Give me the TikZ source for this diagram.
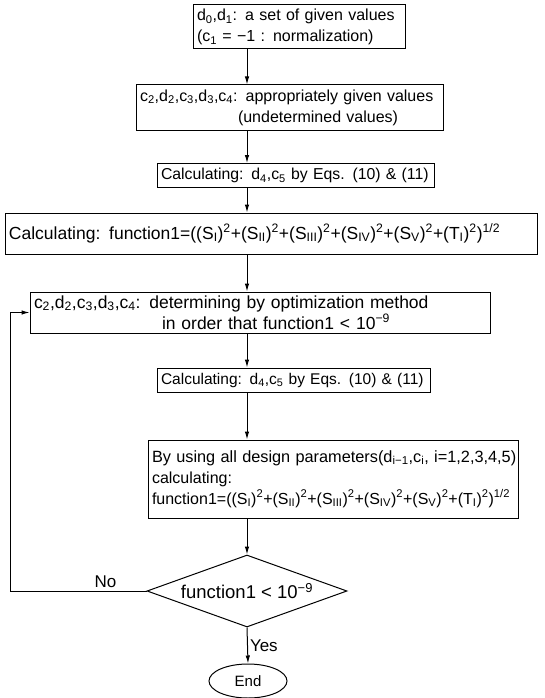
\documentclass[tikz,border=0pt]{standalone}
\usepackage{fontspec}
\setmainfont{Liberation Sans}
\usetikzlibrary{arrows.meta,shapes.geometric,calc}
\newcommand{\sq}{\textsuperscript{2}}
\newcommand{\sub}[1]{\textsubscript{#1}}
\begin{document}
\begin{tikzpicture}[x=1pt,y=-1pt,
  box/.style={draw,line width=1pt,inner xsep=4pt,inner ysep=0pt,align=left},
  fs/.style={font=\fontsize{#1}{21}\selectfont},
  arr/.style={-{Latex[length=8pt,width=4.5pt]},line width=1pt}]
\useasboundingbox (0,0) rectangle (544,698);
\coordinate (spine) at (247,0);
\node[box,fs=16,text width=204pt,minimum height=44pt] (given) at (299,27)
  {\mbox{d\sub{0},d\sub{1}: a set of given values}\\(c\sub{1} = −1 : normalization)};
\node[box,fs=16,text width=299pt,minimum height=45pt] (guess) at (289.5,107.5)
  {\mbox{c\sub{2},d\sub{2},c\sub{3},d\sub{3},c\sub{4}: appropriately given values}\\\hspace*{98pt}(undetermined values)};
\node[box,fs=15.8,text width=269pt,minimum height=24pt] (calcA) at (295.5,175.5)
  {\mbox{Calculating: d\sub{4},c\sub{5} by Eqs. (10) \& (11)}};
\node[box,fs=17.5,text width=524pt,minimum height=41pt] (funA) at (271,233.5)
  {\mbox{Calculating: function1=((S\sub{I})\sq+(S\sub{II})\sq+(S\sub{III})\sq+(S\sub{IV})\sq+(S\sub{V})\sq+(T\sub{I})\sq)\textsuperscript{1/2}}};
\node[box,fs=17.5,text width=452pt,minimum height=41pt] (optim) at (260,312.5)
  {\mbox{c\sub{2},d\sub{2},c\sub{3},d\sub{3},c\sub{4}: determining by optimization method}\\\hspace*{128pt}in order that function1 \textless{} 10\textsuperscript{−9}};
\node[box,fs=15.5,text width=265pt,minimum height=24pt] (calcB) at (293.5,380)
  {\mbox{Calculating: d\sub{4},c\sub{5} by Eqs. (10) \& (11)}};
\node[box,fs=16,text width=362pt,minimum height=78pt] (funB) at (333,479)
  {\mbox{\fontsize{16.3}{21}\selectfont By using all design parameters(d\sub{i−1},c\sub{i}, i=1,2,3,4,5)}\\calculating:\\\mbox{function1=((S\sub{I})\sq+(S\sub{II})\sq+(S\sub{III})\sq+(S\sub{IV})\sq+(S\sub{V})\sq+(T\sub{I})\sq)\textsuperscript{1/2}}};
\node[draw,line width=1pt,diamond,aspect=2.8,inner sep=0pt,minimum width=200pt,minimum height=72pt,
  fs=18.5] (test) at (247,591) {function1 \textless{} 10\textsuperscript{−9}};
\node[draw,line width=1pt,ellipse,inner sep=0pt,minimum width=78pt,minimum height=34pt,
  fs=15] (stop) at (248,681) {End};
\coordinate (back) at (10,0);
\draw[arr] (given.south -| spine) -- (guess.north -| spine);
\draw[arr] (guess.south -| spine) -- (calcA.north -| spine);
\draw[arr] (calcA.south -| spine) -- (funA.north -| spine);
\draw[arr] (funA.south -| spine) -- (optim.north -| spine);
\draw[arr] (optim.south -| spine) -- (calcB.north -| spine);
\draw[arr] (calcB.south -| spine) -- (funB.north -| spine);
\draw[arr] (funB.south -| spine) -- (test.north);
\draw[arr] (test.south) -- node[fs=17,right,inner sep=2pt] {Yes} (stop.north);
\draw[arr] (test.west) -- node[fs=17,above,pos=0.3] {No} (test.west -| back) |- (optim.west);
\end{tikzpicture}
\end{document}
